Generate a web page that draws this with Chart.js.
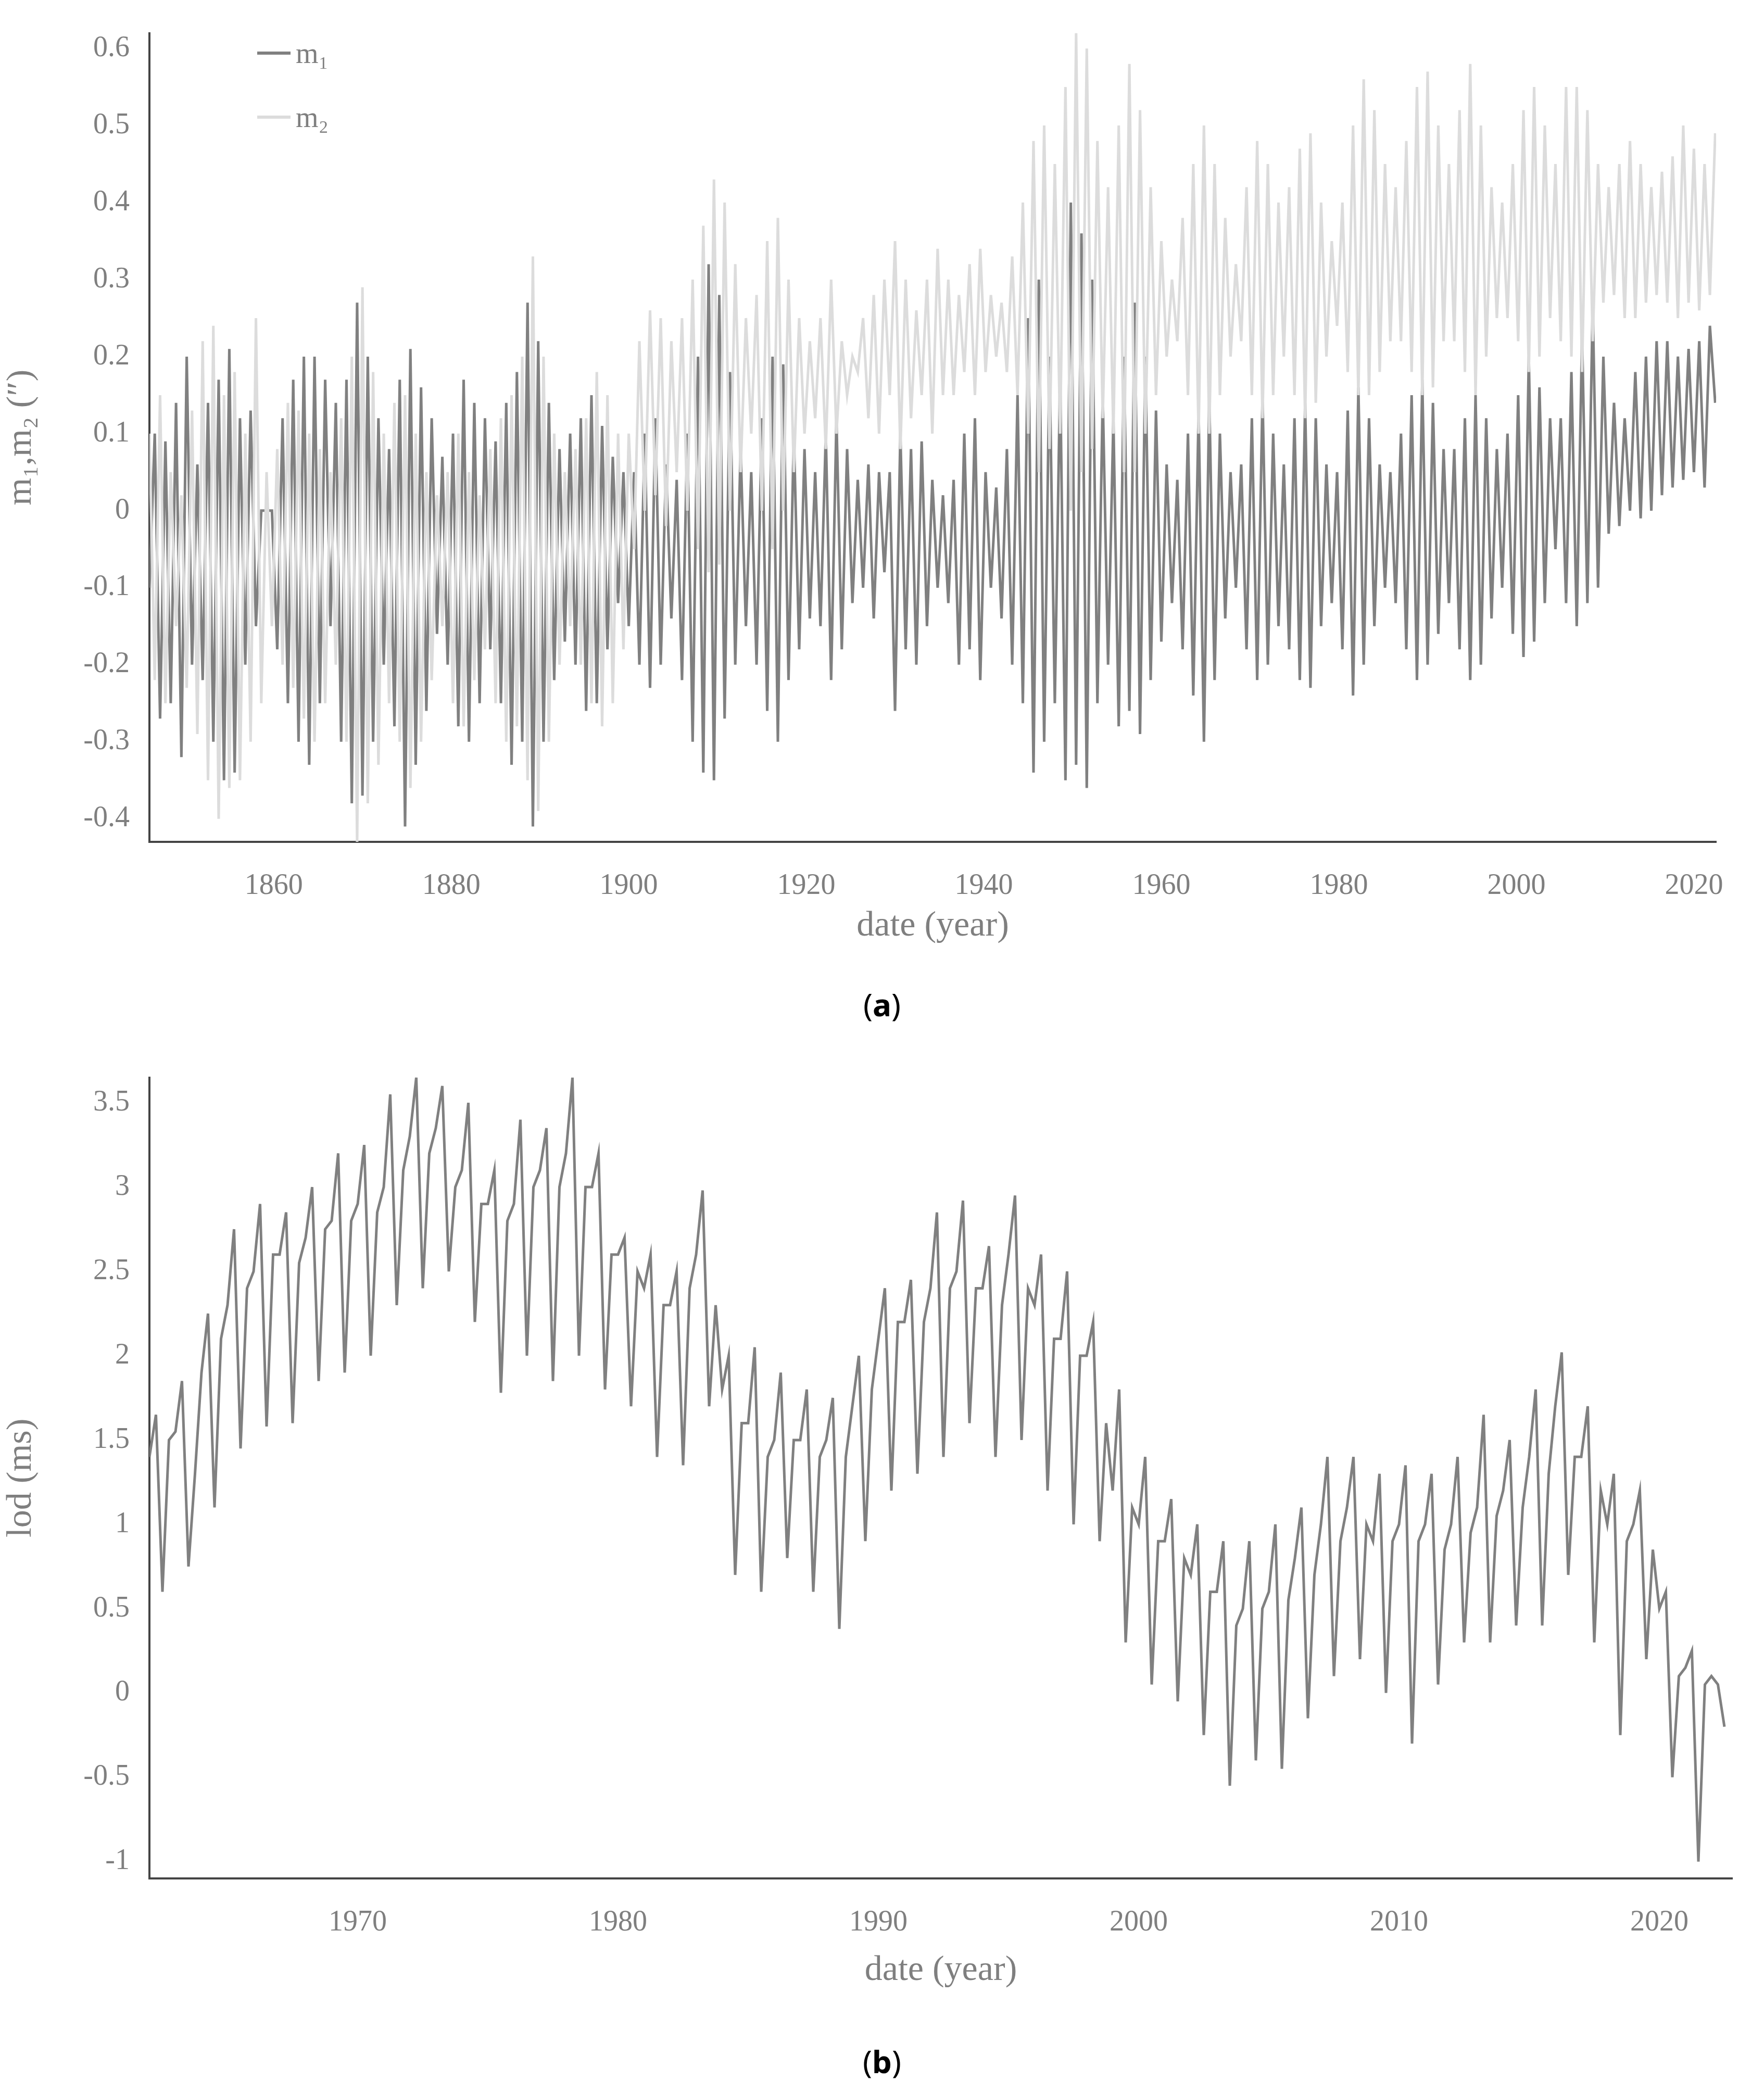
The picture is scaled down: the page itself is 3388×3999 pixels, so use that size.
<!DOCTYPE html>
<html><head><meta charset="utf-8">
<script src="https://cdn.jsdelivr.net/npm/chart.js@4"></script>
<style>
body{margin:0;background:#fff;width:3388px;height:3999px;position:relative;overflow:hidden;font-family:"Liberation Serif",serif}
.box{position:absolute;left:0;width:3388px;height:1850px}
.cap{position:absolute;width:3388px;text-align:center;font-family:"Noto Sans",sans-serif;font-size:60px;color:#000}
.leg{position:absolute;font-size:56px;color:#7f7f7f;display:flex;align-items:center}
.leg span{display:inline-block;width:64px;height:6px;margin-right:10px}
</style></head><body>
<div class="box" style="top:0"><canvas id="ca"></canvas></div>
<div class="box" style="top:2006px"><canvas id="cb"></canvas></div>
<div class="leg" style="left:494px;top:70px"><span style="background:#808080"></span>m₁</div>
<div class="leg" style="left:494px;top:193px"><span style="background:#dcdcdc"></span>m₂</div>
<div class="cap" style="top:1888px">(<b>a</b>)</div>
<div class="cap" style="top:3918px">(<b>b</b>)</div>
<script>
const aStart=1846, aStep=0.6;
const m1=[-0.10,0.10,-0.27,0.09,-0.25,0.14,-0.32,0.20,-0.20,0.06,
-0.22,0.14,-0.30,0.17,-0.35,0.21,-0.34,0.12,-0.20,0.13,
-0.15,0.00,0.00,0.00,-0.18,0.12,-0.25,0.17,-0.30,0.20,
-0.33,0.20,-0.25,0.17,-0.15,0.14,-0.30,0.17,-0.38,0.27,
-0.37,0.20,-0.30,0.12,-0.20,0.08,-0.28,0.17,-0.41,0.21,
-0.33,0.16,-0.26,0.12,-0.16,0.07,-0.20,0.10,-0.28,0.17,
-0.30,0.14,-0.25,0.12,-0.18,0.09,-0.25,0.14,-0.33,0.18,
-0.30,0.27,-0.41,0.22,-0.30,0.14,-0.22,0.08,-0.17,0.10,
-0.20,0.12,-0.26,0.15,-0.25,0.11,-0.18,0.07,-0.12,0.05,
-0.15,0.05,-0.20,0.10,-0.23,0.12,-0.20,0.06,-0.14,0.04,
-0.22,0.10,-0.30,0.20,-0.34,0.32,-0.35,0.28,-0.27,0.18,
-0.20,0.08,-0.15,0.05,-0.20,0.12,-0.26,0.20,-0.30,0.19,
-0.22,0.10,-0.18,0.08,-0.14,0.05,-0.15,0.10,-0.22,0.12,
-0.18,0.08,-0.12,0.04,-0.10,0.06,-0.14,0.05,-0.08,0.05,
-0.26,0.10,-0.18,0.08,-0.20,0.09,-0.15,0.04,-0.10,0.02,
-0.12,0.04,-0.20,0.10,-0.18,0.12,-0.22,0.05,-0.10,0.03,
-0.14,0.08,-0.20,0.15,-0.25,0.25,-0.34,0.30,-0.30,0.20,
-0.25,0.18,-0.35,0.40,-0.33,0.36,-0.36,0.30,-0.25,0.15,
-0.20,0.12,-0.28,0.20,-0.26,0.27,-0.29,0.20,-0.22,0.13,
-0.17,0.06,-0.12,0.04,-0.18,0.10,-0.24,0.13,-0.30,0.15,
-0.22,0.10,-0.14,0.05,-0.10,0.06,-0.18,0.12,-0.22,0.15,
-0.20,0.10,-0.15,0.06,-0.18,0.12,-0.22,0.14,-0.23,0.12,
-0.15,0.06,-0.12,0.05,-0.18,0.13,-0.24,0.16,-0.20,0.12,
-0.15,0.06,-0.10,0.05,-0.12,0.10,-0.18,0.15,-0.22,0.17,
-0.20,0.14,-0.16,0.08,-0.12,0.08,-0.18,0.12,-0.22,0.15,
-0.20,0.12,-0.14,0.08,-0.10,0.10,-0.16,0.15,-0.19,0.20,
-0.17,0.16,-0.12,0.12,-0.05,0.12,-0.12,0.18,-0.15,0.23,
-0.12,0.27,-0.10,0.20,-0.03,0.14,-0.02,0.12,0.00,0.18,
-0.01,0.20,0.00,0.22,0.02,0.22,0.03,0.20,0.04,0.21,
0.05,0.22,0.03,0.24,0.14];
const m2=[0.10,-0.22,0.15,-0.25,0.05,-0.15,0.02,-0.23,0.13,-0.29,
0.22,-0.35,0.24,-0.40,0.15,-0.36,0.18,-0.35,0.10,-0.30,
0.25,-0.25,0.05,-0.15,0.08,-0.20,0.14,-0.23,0.13,-0.27,
0.10,-0.30,0.08,-0.25,0.05,-0.20,0.12,-0.30,0.20,-0.43,
0.29,-0.38,0.18,-0.33,0.10,-0.25,0.14,-0.30,0.15,-0.36,
0.10,-0.30,0.05,-0.22,0.02,-0.15,0.05,-0.25,0.10,-0.28,
0.05,-0.22,0.02,-0.18,0.08,-0.25,0.12,-0.30,0.15,-0.28,
0.20,-0.35,0.33,-0.39,0.20,-0.30,0.10,-0.20,0.05,-0.15,
0.08,-0.20,0.12,-0.25,0.18,-0.28,0.15,-0.25,0.10,-0.18,
0.10,-0.05,0.22,0.00,0.26,0.02,0.25,-0.02,0.22,0.05,
0.25,0.00,0.30,-0.05,0.37,-0.08,0.43,-0.07,0.40,0.00,
0.32,0.05,0.25,0.10,0.28,0.00,0.35,-0.05,0.38,0.00,
0.30,0.05,0.25,0.10,0.22,0.12,0.25,0.08,0.30,0.10,
0.22,0.15,0.20,0.18,0.25,0.12,0.28,0.10,0.30,0.15,
0.35,0.08,0.30,0.12,0.26,0.15,0.30,0.10,0.34,0.15,
0.30,0.15,0.28,0.18,0.32,0.15,0.34,0.18,0.28,0.20,
0.27,0.18,0.33,0.15,0.40,0.10,0.48,0.05,0.50,0.08,
0.45,0.10,0.55,0.00,0.62,0.05,0.60,0.08,0.48,0.12,
0.42,0.10,0.50,0.05,0.58,0.05,0.52,0.10,0.42,0.15,
0.35,0.20,0.30,0.22,0.38,0.15,0.45,0.10,0.50,0.10,
0.45,0.15,0.38,0.20,0.32,0.22,0.42,0.15,0.48,0.12,
0.45,0.15,0.40,0.20,0.42,0.15,0.47,0.12,0.49,0.14,
0.40,0.20,0.35,0.24,0.40,0.18,0.50,0.15,0.56,0.15,
0.52,0.18,0.45,0.22,0.42,0.22,0.48,0.18,0.55,0.15,
0.57,0.16,0.50,0.22,0.45,0.22,0.52,0.18,0.58,0.15,
0.50,0.20,0.42,0.25,0.40,0.25,0.45,0.22,0.52,0.18,
0.55,0.20,0.50,0.25,0.45,0.22,0.55,0.20,0.55,0.18,
0.52,0.22,0.45,0.27,0.42,0.28,0.45,0.25,0.48,0.25,
0.45,0.27,0.42,0.28,0.44,0.27,0.46,0.25,0.50,0.27,
0.47,0.26,0.45,0.28,0.49];
const bStart=1962, bStep=0.25;
const lod=[1.40,1.65,0.60,1.50, 1.55,1.85,0.75,1.30, 1.90,2.25,1.10,2.10, 2.30,2.75,1.45,2.40,
2.50,2.90,1.58,2.60, 2.60,2.85,1.60,2.55, 2.70,3.00,1.85,2.75, 2.80,3.20,1.90,2.80,
2.90,3.25,2.00,2.85, 3.00,3.55,2.30,3.10, 3.30,3.65,2.40,3.20, 3.35,3.60,2.50,3.00,
3.10,3.50,2.20,2.90, 2.90,3.10,1.78,2.80, 2.90,3.40,2.00,3.00, 3.10,3.35,1.85,3.00,
3.20,3.65,2.00,3.00, 3.00,3.20,1.80,2.60, 2.60,2.70,1.70,2.50, 2.40,2.60,1.40,2.30,
2.30,2.50,1.35,2.40, 2.60,2.98,1.70,2.30, 1.80,2.00,0.70,1.60, 1.60,2.05,0.60,1.40,
1.50,1.90,0.80,1.50, 1.50,1.80,0.60,1.40, 1.50,1.75,0.38,1.40, 1.70,2.00,0.90,1.80,
2.10,2.40,1.20,2.20, 2.20,2.45,1.30,2.20, 2.40,2.85,1.40,2.40, 2.50,2.92,1.60,2.40,
2.40,2.65,1.40,2.30, 2.60,2.95,1.50,2.40, 2.30,2.60,1.20,2.10, 2.10,2.50,1.00,2.00,
2.00,2.20,0.90,1.60, 1.20,1.80,0.30,1.10, 1.00,1.40,0.05,0.90, 0.90,1.15,-0.05,0.80,
0.70,1.00,-0.25,0.60, 0.60,0.90,-0.55,0.40, 0.50,0.90,-0.40,0.50, 0.60,1.00,-0.45,0.55,
0.80,1.10,-0.15,0.70, 1.00,1.40,0.10,0.90, 1.10,1.40,0.20,1.00, 0.90,1.30,0.00,0.90,
1.00,1.35,-0.30,0.90, 1.00,1.30,0.05,0.85, 1.00,1.40,0.30,0.95, 1.10,1.65,0.30,1.05,
1.20,1.50,0.40,1.10, 1.40,1.80,0.40,1.30, 1.70,2.02,0.70,1.40, 1.40,1.70,0.30,1.20,
1.00,1.30,-0.25,0.90, 1.00,1.20,0.20,0.85, 0.50,0.60,-0.50,0.10, 0.15,0.25,-1.00,0.05,
0.10,0.05,-0.20];
const aTicksX=[1860,1880,1900,1920,1940,1960,1980,2000,2020];
const bTicksX=[1970,1980,1990,2000,2010,2020];

const toXY=(arr,s,st)=>arr.map((v,i)=>({x:s+st*i,y:v}));
const grey='#7f7f7f';
const tickFont={family:'Liberation Serif',size:56};
const titleFont={family:'Liberation Serif',size:68};
function fmt(v){return Math.abs(v)<1e-9?'0':String(+v.toFixed(2)).replace(/^(-?)0\./,'$10.');}
function make(id,datasets,xmin,xmax,xt,ymin,ymax,ystep,ytitle,rightPad,xh){
 new Chart(document.getElementById(id),{type:'line',data:{datasets},
 options:{animation:false,responsive:true,maintainAspectRatio:false,
  layout:{padding:{top:36,right:rightPad,left:0,bottom:0}},
  plugins:{legend:{display:false},tooltip:{enabled:false}},
  elements:{point:{radius:0},line:{borderWidth:5,tension:0}},
  scales:{
   x:{type:'linear',min:xmin,max:xmax,
     afterBuildTicks:s=>{s.ticks=xt.map(v=>({value:v}));},
     afterFit:s=>{s.height=xh;},
     ticks:{color:grey,font:tickFont,padding:44,maxRotation:0,callback:v=>String(v)},
     grid:{display:false},border:{color:'#444',width:4},
     title:{display:true,text:'date (year)',color:grey,font:titleFont,padding:{top:0,bottom:30}}},
   y:{min:ymin,max:ymax,
     afterBuildTicks:s=>{const t=[];for(let v=Math.ceil(ymin/ystep-1e-9)*ystep;v<=ymax+1e-9;v+=ystep)t.push({value:+v.toFixed(4)});s.ticks=t;},
     afterFit:s=>{s.width=287;},
     ticks:{color:grey,font:tickFont,padding:30,callback:v=>fmt(v)},
     grid:{display:false},border:{color:'#444',width:4},
     title:{display:true,text:ytitle,color:grey,font:titleFont,padding:{top:0,bottom:50}}}
  }}});
}
make('ca',[
 {data:toXY(m1,aStart,aStep),borderColor:'#808080',order:2},
 {data:toXY(m2,aStart,aStep),borderColor:'#dcdcdc',order:1}
],1846,2022.5,aTicksX,-0.43,0.62,0.1,'m₁,m₂ (″)',92,233);
make('cb',[{data:toXY(lod,bStart,bStep),borderColor:'#808080'}],
 1962,2022.8,bTicksX,-1.1,3.65,0.5,'lod (ms)',61,248);
</script></body></html>
